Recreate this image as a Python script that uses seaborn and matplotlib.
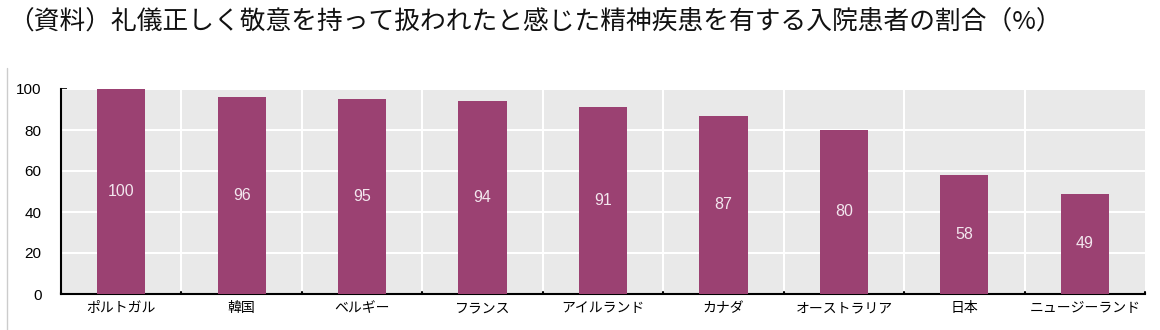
import matplotlib
matplotlib.use("Agg")
import matplotlib.pyplot as plt
import seaborn as sns
import pandas as pd
from matplotlib.lines import Line2D

title = "（資料）礼儀正しく敬意を持って扱われたと感じた精神疾患を有する入院患者の割合（%）"
countries = ["ポルトガル", "韓国", "ベルギー", "フランス", "アイルランド", "カナダ", "オーストラリア", "日本", "ニュージーランド"]
values = [100, 96, 95, 94, 91, 87, 80, 58, 49]
yticks = [0, 20, 40, 60, 80, 100]

sns.set_theme(style="white")
plt.rcParams['font.family'] = ['Noto Sans CJK JP', 'DejaVu Sans']

df = pd.DataFrame({"country": countries, "value": values})

fig = plt.figure(figsize=(11.6, 3.3), dpi=100)
ax = fig.add_axes([61/1160, 1 - 294/330, (1145 - 61)/1160, (294 - 89)/330])
ax.set_facecolor("#e9e9e9")

sns.barplot(data=df, x="country", y="value", color="#9b4172", width=0.4,
            saturation=1, ax=ax, zorder=3, linewidth=0)

ax.set_ylim(0, 100)
ax.set_xlim(-0.5, len(countries) - 0.5)
ax.set_yticks(yticks)
ax.set_yticklabels([str(t) for t in yticks], fontsize=11, color="#000000",
                   family=["Liberation Sans"])
ax.set_xticks(range(len(countries)))
ax.set_xticklabels(countries, fontsize=10, color="#000000")
ax.set_xlabel("")
ax.set_ylabel("")

# grid
for t in yticks[1:]:
    ax.axhline(t, color="white", lw=1.5, zorder=1)
for i in range(1, len(countries)):
    ax.axvline(i - 0.5, color="white", lw=1.5, zorder=1)

for s in ["top", "right"]:
    ax.spines[s].set_visible(False)
for s in ["left", "bottom"]:
    ax.spines[s].set_visible(True)
    ax.spines[s].set_color("black")
    ax.spines[s].set_linewidth(1.5)

ax.tick_params(axis="y", direction="in", length=4, width=1.2, color="black", pad=14, left=True)
ax.tick_params(axis="x", length=0, pad=5)
# small boundary ticks on x axis
for i in range(0, len(countries) + 1):
    ax.plot([i - 0.5, i - 0.5], [0, 1.2], color="black", lw=1.5, zorder=5, clip_on=False)

for i, v in enumerate(values):
    ax.text(i, v / 2, str(v), ha="center", va="center", color="#f3e6ee",
            fontsize=11.5, family=["Liberation Sans"], zorder=4)

fig.text(8/1160, 1 - 22/330, title, fontsize=18.5, ha="left", va="center", color="#111111")
fig.add_artist(Line2D([7/1160, 7/1160], [0, 1 - 68/330], color="#cccccc", lw=1))

fig.savefig("out.png", dpi=100)
